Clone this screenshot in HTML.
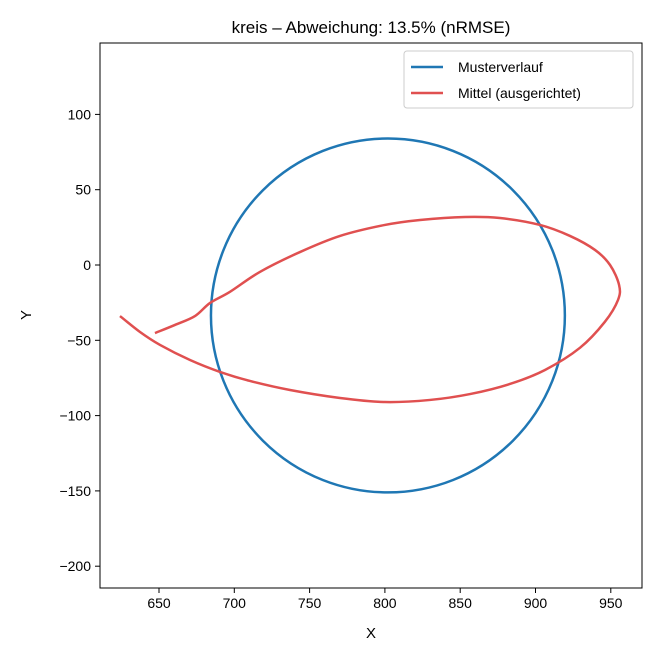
<!DOCTYPE html>
<html><head><meta charset="utf-8"><style>body{margin:0;background:#fff}svg{font-family:"Liberation Sans","DejaVu Sans",sans-serif}</style></head>
<body>
<svg id="c" width="660" height="660" xmlns="http://www.w3.org/2000/svg">
<rect width="660" height="660" fill="#fff"/>
<text x="371" y="33" text-anchor="middle" font-size="17">kreis – Abweichung: 13.5% (nRMSE)</text>
<g id="plot"></g>
</svg>
<script>
const xTicks=[650,700,750,800,850,900,950];
const yTicks=[100,50,0,-50,-100,-150,-200];
const circleCenter=[802,-33.5];
const circleRadius=[117.5];
const meanX=[624.1,637.4,650.7,670.6,690.5,710.4,737,770.2,800,830,856.5,883,906.3,929.5,946,954.8,955.5,949.5,939.5,922.9,903,876.4,853.2,823.3,800,770.2,743.6,717,697,683.9,673.9,660.6,647.3];
const meanY=[-33.9,-44.5,-53.1,-63.1,-71.0,-77.0,-83,-88.3,-91,-89.6,-85.7,-79,-69.7,-55,-37.8,-23.2,-13.3,0,10,19.3,26.6,31.2,31.9,29.9,26.6,19.3,8.6,-4.6,-17.9,-25.2,-33.9,-39.8,-45.2];
const L=100,R=642,T=43,B=588,k=1.506;
const sx=v=>159+(v-650)*k, sy=v=>265-v*k;
const NS='http://www.w3.org/2000/svg';
const g=document.getElementById('plot');
function mk(t,a,p){const e=document.createElementNS(NS,t);for(const q in a)e.setAttribute(q,a[q]);(p||g).appendChild(e);return e;}
const clip=mk('clipPath',{id:'cp'});mk('rect',{x:L,y:T,width:R-L,height:B-T},clip);
xTicks.forEach(v=>{const x=sx(v);
const t=mk('line',{x1:x,x2:x,y1:B,y2:B+5,stroke:'#000'});


const l=mk('text',{x:x,y:B+20,'text-anchor':'middle','font-size':14});l.textContent=v;

});
yTicks.forEach(v=>{const y=sy(v);
const t=mk('line',{x1:L-5,x2:L,y1:y,y2:y,stroke:'#000'});


const l=mk('text',{x:L-9,y:y+5,'text-anchor':'end','font-size':14});l.textContent=v<0?'−'+(-v):v;

});
const c=mk('circle',{cx:sx(circleCenter[0]),cy:sy(circleCenter[1]),r:circleRadius[0]*k,fill:'none',stroke:'#1f77b4','stroke-width':2.5,'clip-path':'url(#cp)'});


const P=meanX.map((x,i)=>[sx(x),sy(meanY[i])]);
let d='M'+P[0][0]+','+P[0][1];
for(let i=0;i<P.length-1;i++){
const p0=P[Math.max(0,i-1)],p1=P[i],p2=P[i+1],p3=P[Math.min(P.length-1,i+2)];
const c1=[p1[0]+(p2[0]-p0[0])/6,p1[1]+(p2[1]-p0[1])/6];
const c2=[p2[0]-(p3[0]-p1[0])/6,p2[1]-(p3[1]-p1[1])/6];
d+=' C'+c1.join(',')+' '+c2.join(',')+' '+p2.join(',');}
const p=mk('path',{d:d,fill:'none',stroke:'#e05050','stroke-width':2.5,'stroke-linejoin':'round','clip-path':'url(#cp)'});


const fr=mk('rect',{x:L,y:T,width:R-L,height:B-T,fill:'none',stroke:'#000','stroke-width':1});


const xl=mk('text',{x:371,y:638,'text-anchor':'middle','font-size':15});xl.textContent='X';


const yl=mk('text',{x:31,y:315,'text-anchor':'middle','font-size':15,transform:'rotate(-90 31 315)'});yl.textContent='Y';


const lg=mk('g',{});


mk('rect',{x:404,y:51,width:229,height:57,rx:3,fill:'#fff',stroke:'#ccc'},lg);
[['Musterverlauf','#1f77b4',67],['Mittel (ausgerichtet)','#e05050',93]].forEach(([n,col,y])=>{
const e=mk('g',{},lg);


mk('line',{x1:411,x2:443,y1:y,y2:y,stroke:col,'stroke-width':2.5},e);
const t=mk('text',{x:458,y:y+5,'font-size':14},e);t.textContent=n;});
</script>
</body></html>
